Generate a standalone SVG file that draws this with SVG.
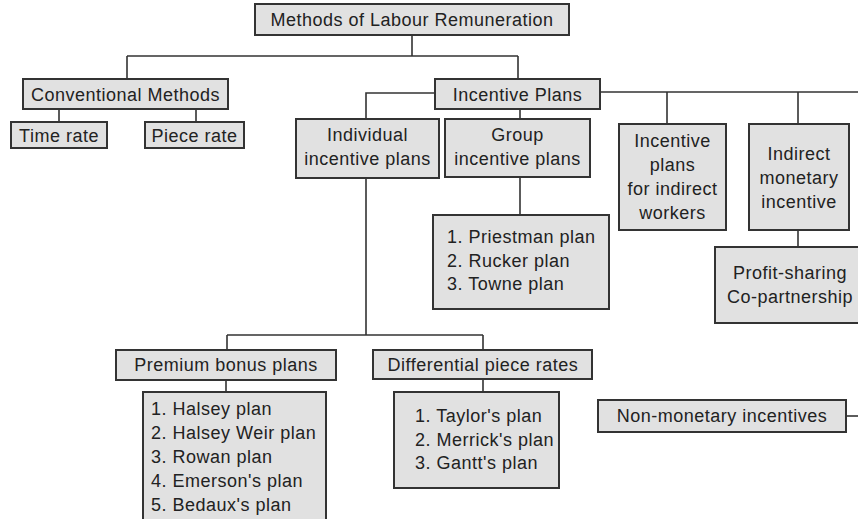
<svg xmlns="http://www.w3.org/2000/svg" width="858" height="519" viewBox="0 0 858 519">
<style>
.box{fill:#e1e1e1;stroke:#333;stroke-width:2}
.ln{stroke:#333;stroke-width:1.6;fill:none}
text{font-family:"Liberation Sans",Arial,sans-serif;font-size:18px;letter-spacing:0.5px;fill:#222}
.c{text-anchor:middle}
</style>
<rect width="858" height="519" fill="#fff"/>
<g id="connectors" class="ln">
<path d="M412,35V56M127,56H518M127,56V79M518,56V79"/>
<path d="M59,109V122M196,109V122"/>
<path d="M435,93H366V119M600,92H858M667,92V124M798,92V124M520,109V119"/>
<path d="M520,177V215"/>
<path d="M798,230V247"/>
<path d="M366,178V335M227,335H483M227,335V350M483,335V350"/>
<path d="M226,380V392"/>
<path d="M483,379V392"/>
<path d="M846,416H858"/>
</g>
<g id="root"><rect class="box" x="255" y="4" width="314" height="31"/><text class="c" x="412" y="26">Methods of Labour Remuneration</text></g>
<g id="conventional"><rect class="box" x="23" y="79" width="205" height="30"/><text class="c" x="125.5" y="100.5">Conventional Methods</text></g>
<g id="time-rate"><rect class="box" x="11" y="122" width="96" height="26"/><text class="c" x="59" y="141.5">Time rate</text></g>
<g id="piece-rate"><rect class="box" x="145" y="122" width="99" height="26"/><text class="c" x="194.5" y="141.5">Piece rate</text></g>
<g id="incentive-plans"><rect class="box" x="435" y="79" width="165" height="30"/><text class="c" x="517.5" y="100.5">Incentive Plans</text></g>
<g id="individual"><rect class="box" x="296" y="119" width="143" height="59"/><text class="c" x="367.5" y="141">Individual</text><text class="c" x="367.5" y="165">incentive plans</text></g>
<g id="group"><rect class="box" x="445" y="119" width="145" height="58"/><text class="c" x="517.5" y="141">Group</text><text class="c" x="517.5" y="165">incentive plans</text></g>
<g id="group-list"><rect class="box" x="433" y="215" width="176" height="94"/><text x="447" y="243">1. Priestman plan</text><text x="447" y="267">2. Rucker plan</text><text x="447" y="290">3. Towne plan</text></g>
<g id="indirect-workers"><rect class="box" x="619" y="124" width="107" height="106"/><text class="c" x="672.5" y="147">Incentive</text><text class="c" x="672.5" y="171">plans</text><text class="c" x="672.5" y="195">for indirect</text><text class="c" x="672.5" y="219">workers</text></g>
<g id="indirect-monetary"><rect class="box" x="749" y="124" width="100" height="106"/><text class="c" x="799" y="160">Indirect</text><text class="c" x="799" y="184">monetary</text><text class="c" x="799" y="208">incentive</text></g>
<g id="profit-sharing"><rect class="box" x="715" y="247" width="150" height="76"/><text class="c" x="790" y="279">Profit-sharing</text><text class="c" x="790" y="303">Co-partnership</text></g>
<g id="premium"><rect class="box" x="116" y="350" width="220" height="30"/><text class="c" x="226" y="371">Premium bonus plans</text></g>
<g id="premium-list"><rect class="box" x="143" y="392" width="183" height="140"/><text x="151" y="415">1. Halsey plan</text><text x="151" y="439">2. Halsey Weir plan</text><text x="151" y="463">3. Rowan plan</text><text x="151" y="487">4. Emerson's plan</text><text x="151" y="511">5. Bedaux's plan</text></g>
<g id="differential"><rect class="box" x="373" y="350" width="219" height="29"/><text class="c" x="483" y="371">Differential piece rates</text></g>
<g id="differential-list"><rect class="box" x="394" y="392" width="165" height="96"/><text x="415" y="422">1. Taylor's plan</text><text x="415" y="446">2. Merrick's plan</text><text x="415" y="469">3. Gantt's plan</text></g>
<g id="non-monetary"><rect class="box" x="598" y="400" width="248" height="32"/><text class="c" x="722" y="422">Non-monetary incentives</text></g>
</svg>
